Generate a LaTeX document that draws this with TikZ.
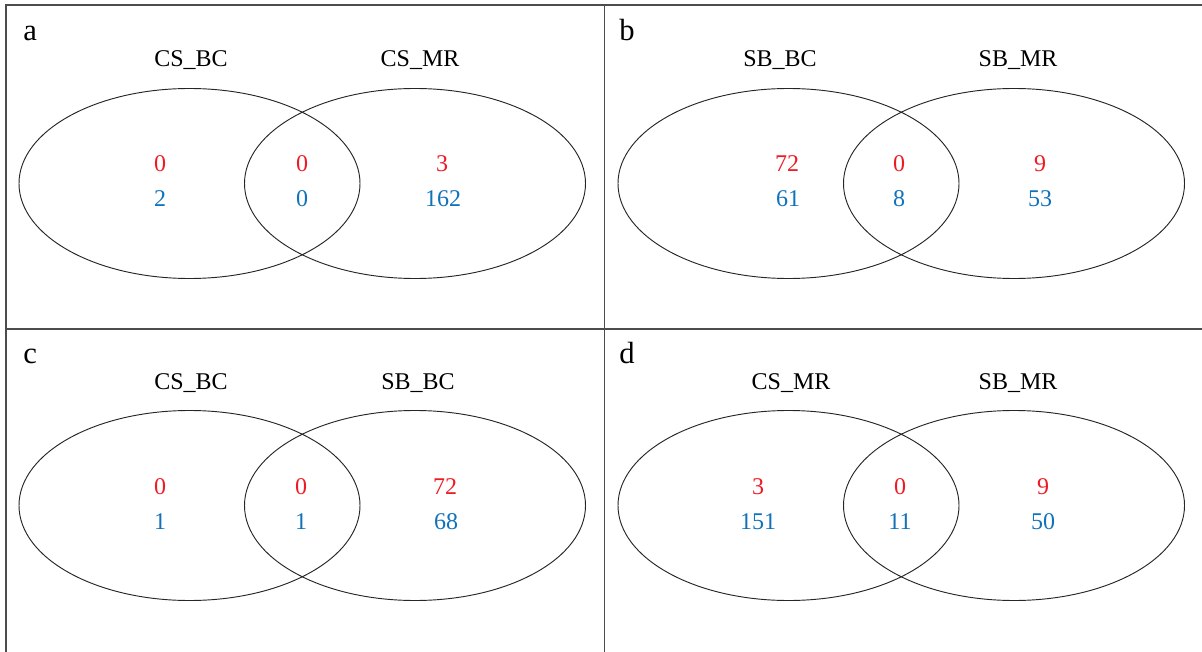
\documentclass[tikz,border=0pt]{standalone}
\usepackage{fontspec}
\setmainfont{Liberation Serif}
\definecolor{numred}{RGB}{237,28,36}
\definecolor{numblue}{RGB}{16,114,186}
\tikzset{
  frameline/.style={line width=1pt, black!70},
  setline/.style={line width=0.7pt, black!85},
  panellabel/.style={anchor=base west, inner sep=0pt, font=\fontsize{23}{26}\selectfont},
  setname/.style={anchor=base, inner sep=0pt, font=\fontsize{18}{21}\selectfont},
  rednum/.style={setname, text=numred},
  bluenum/.style={setname, text=numblue}
}
\begin{document}
\begin{tikzpicture}[x=0.75pt, y=-0.75pt]
        \useasboundingbox (0, 0) rectangle (1202, 652);

        \draw [frameline] (6, 652) -- (6, 5) -- (1202, 5);
        \draw [frameline] (6, 329) -- (1202, 329);
        \draw [frameline] (604.5, 5) -- (604.5, 652);

        \begin{scope}
          \draw [setline] (189.5, 183.5) ellipse [x radius = 170.5, y radius = 95];
          \draw [setline] (415, 183.5) ellipse [x radius = 170.5, y radius = 95];
          \node [panellabel] (pa) at (23, 41) {a};
          \node [setname] (aleft) at (191, 67) {CS\_BC};
          \node [setname] (aright) at (420, 67) {CS\_MR};
          \node [rednum] (ar1) at (160, 172) {0};
          \node [rednum] (ar2) at (302, 172) {0};
          \node [rednum] (ar3) at (442, 172) {3};
          \node [bluenum] (ab1) at (160, 207) {2};
          \node [bluenum] (ab2) at (302, 207) {0};
          \node [bluenum] (ab3) at (443, 207) {162};
        \end{scope}

        \begin{scope}[shift={(599, 0)}]
          \draw [setline] (189.5, 183.5) ellipse [x radius = 170.5, y radius = 95];
          \draw [setline] (415, 183.5) ellipse [x radius = 170.5, y radius = 95];
          \node [panellabel] (pb) at (20, 41) {b};
          \node [setname] (bleft) at (181, 67) {SB\_BC};
          \node [setname] (bright) at (419, 67) {SB\_MR};
          \node [rednum] (br1) at (188, 172) {72};
          \node [rednum] (br2) at (300, 172) {0};
          \node [rednum] (br3) at (441, 172) {9};
          \node [bluenum] (bb1) at (189, 207) {61};
          \node [bluenum] (bb2) at (300, 207) {8};
          \node [bluenum] (bb3) at (441, 207) {53};
        \end{scope}

        \begin{scope}[shift={(0, 322)}]
          \draw [setline] (189.5, 183.5) ellipse [x radius = 170.5, y radius = 95];
          \draw [setline] (415, 183.5) ellipse [x radius = 170.5, y radius = 95];
          \node [panellabel] (pc) at (23, 41) {c};
          \node [setname] (cleft) at (191, 67) {CS\_BC};
          \node [setname] (cright) at (418, 67) {SB\_BC};
          \node [rednum] (cr1) at (160, 172) {0};
          \node [rednum] (cr2) at (301, 172) {0};
          \node [rednum] (cr3) at (445, 172) {72};
          \node [bluenum] (cb1) at (160, 207) {1};
          \node [bluenum] (cb2) at (301, 207) {1};
          \node [bluenum] (cb3) at (446, 207) {68};
        \end{scope}

        \begin{scope}[shift={(599, 322)}]
          \draw [setline] (189.5, 183.5) ellipse [x radius = 170.5, y radius = 95];
          \draw [setline] (415, 183.5) ellipse [x radius = 170.5, y radius = 95];
          \node [panellabel] (pd) at (20, 41) {d};
          \node [setname] (dleft) at (192, 67) {CS\_MR};
          \node [setname] (dright) at (419, 67) {SB\_MR};
          \node [rednum] (dr1) at (159, 172) {3};
          \node [rednum] (dr2) at (301, 172) {0};
          \node [rednum] (dr3) at (444, 172) {9};
          \node [bluenum] (db1) at (159, 207) {151};
          \node [bluenum] (db2) at (301, 207) {11};
          \node [bluenum] (db3) at (444, 207) {50};
        \end{scope}
      \end{tikzpicture}
\end{document}
